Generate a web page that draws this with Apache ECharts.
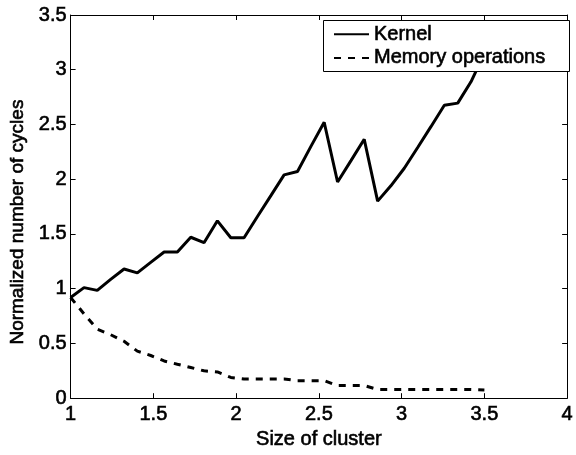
<!DOCTYPE html>
<html>
<head>
<meta charset="utf-8">
<script src="https://cdn.jsdelivr.net/npm/echarts@6/dist/echarts.min.js"></script>
<style>
html,body{margin:0;padding:0;background:#fff;}
#chart{width:576px;height:455px;}
</style>
</head>
<body>
<div id="chart"></div>
<script>
const clusterSize = [1.000, 1.081, 1.161, 1.242, 1.323, 1.403, 1.484, 1.565, 1.645, 1.726, 1.806, 1.887, 1.968, 2.048, 2.129, 2.210, 2.290, 2.371, 2.452, 2.532, 2.613, 2.694, 2.774, 2.855, 2.935, 3.016, 3.097, 3.177, 3.258, 3.339, 3.419, 3.500];
const kernel = [0.92, 1.01, 0.985, 1.085, 1.18, 1.145, 1.24, 1.335, 1.335, 1.47, 1.42, 1.62, 1.465, 1.465, 1.66, 1.85, 2.04, 2.07, 2.30, 2.52, 1.975, 2.17, 2.365, 1.80, 1.94, 2.10, 2.29, 2.48, 2.675, 2.695, 2.89, 3.15];
const memoryOps = [0.92, 0.77, 0.63, 0.58, 0.52, 0.43, 0.39, 0.34, 0.31, 0.28, 0.25, 0.24, 0.19, 0.175, 0.175, 0.175, 0.175, 0.16, 0.16, 0.16, 0.115, 0.115, 0.115, 0.08, 0.08, 0.08, 0.08, 0.08, 0.08, 0.08, 0.08, 0.075];
const seriesNames = ['Kernel', 'Memory operations'];
const xTickLabels = ['1', '1.5', '2', '2.5', '3', '3.5', '4'];
const yTickLabels = ['0', '0.5', '1', '1.5', '2', '2.5', '3', '3.5'];
const xTitle = 'Size of cluster';
const yTitle = 'Normalized number of cycles';

const FONT = 'Liberation Sans, Arial, sans-serif';
const THICK = {textBorderColor: '#000', textBorderWidth: 0.6};
const pairs = (ys) => clusterSize.map((x, i) => [x, ys[i]]);

const chart = echarts.init(document.getElementById('chart'), null, {renderer: 'canvas'});

const axisCommon = {
  type: 'value',
  axisLine: {show: true, onZero: false, lineStyle: {color: '#000', width: 1}},
  axisTick: {show: true, inside: true, length: 5, lineStyle: {color: '#000', width: 1}},
  splitLine: {show: false},
};

const xMin = Number(xTickLabels[0]), xMax = Number(xTickLabels[xTickLabels.length - 1]);
const yMin = Number(yTickLabels[0]), yMax = Number(yTickLabels[yTickLabels.length - 1]);

chart.setOption({
  animation: false,
  backgroundColor: '#fff',
  grid: {left: 67, right: 6, top: 15, bottom: 44},
  graphic: [{
    type: 'rect', z: 3, left: 323, top: 20,
    shape: {width: 246, height: 51},
    style: {fill: '#fff', stroke: '#000', lineWidth: 1}
  }],
  legend: {
    z: 4,
    orient: 'vertical',
    left: 333,
    top: 24,
    padding: 0,
    itemGap: 3,
    itemWidth: 35,
    itemHeight: 3,
    itemTextGap: 12,
    itemStyle: {opacity: 0},
    textStyle: Object.assign({fontFamily: FONT, fontSize: 20, color: '#000', lineHeight: 20}, THICK),
    data: seriesNames
  },
  xAxis: [
    Object.assign({}, axisCommon, {
      position: 'bottom', min: xMin, max: xMax, interval: 0.5,
      name: xTitle, nameLocation: 'middle', nameGap: 16,
      nameTextStyle: Object.assign({fontFamily: FONT, fontSize: 20, color: '#000'}, THICK),
      axisLabel: Object.assign({show: true, margin: 6, fontFamily: FONT, fontSize: 20, color: '#000',
        formatter: (v) => xTickLabels.find(t => Number(t) === v) || ''}, THICK)
    }),
    Object.assign({}, axisCommon, {
      position: 'top', min: xMin, max: xMax, interval: 0.5,
      axisLabel: {show: false}
    })
  ],
  yAxis: [
    Object.assign({}, axisCommon, {
      position: 'left', min: yMin, max: yMax, interval: 0.5,
      name: yTitle, nameLocation: 'middle', nameGap: 38,
      nameTextStyle: Object.assign({fontFamily: FONT, fontSize: 19, color: '#000', padding: [0, 31, 0, 0]}, THICK),
      axisLabel: Object.assign({show: true, margin: 4, fontFamily: FONT, fontSize: 20, color: '#000',
        formatter: (v) => yTickLabels.find(t => Number(t) === v) || ''}, THICK)
    }),
    Object.assign({}, axisCommon, {
      position: 'right', min: yMin, max: yMax, interval: 0.5,
      axisLabel: {show: false}
    })
  ],
  series: [
    {
      name: seriesNames[0], type: 'line', xAxisIndex: 0, yAxisIndex: 0, z: 2,
      data: pairs(kernel), symbol: 'none', showSymbol: false,
      lineStyle: {color: '#000', width: 3, type: 'solid'},
      itemStyle: {color: '#000'}
    },
    {
      name: seriesNames[1], type: 'line', xAxisIndex: 0, yAxisIndex: 0, z: 2,
      data: pairs(memoryOps), symbol: 'none', showSymbol: false,
      lineStyle: {color: '#000', width: 3, type: [7, 7]},
      itemStyle: {color: '#000'}
    }
  ]
});
</script>
</body>
</html>
